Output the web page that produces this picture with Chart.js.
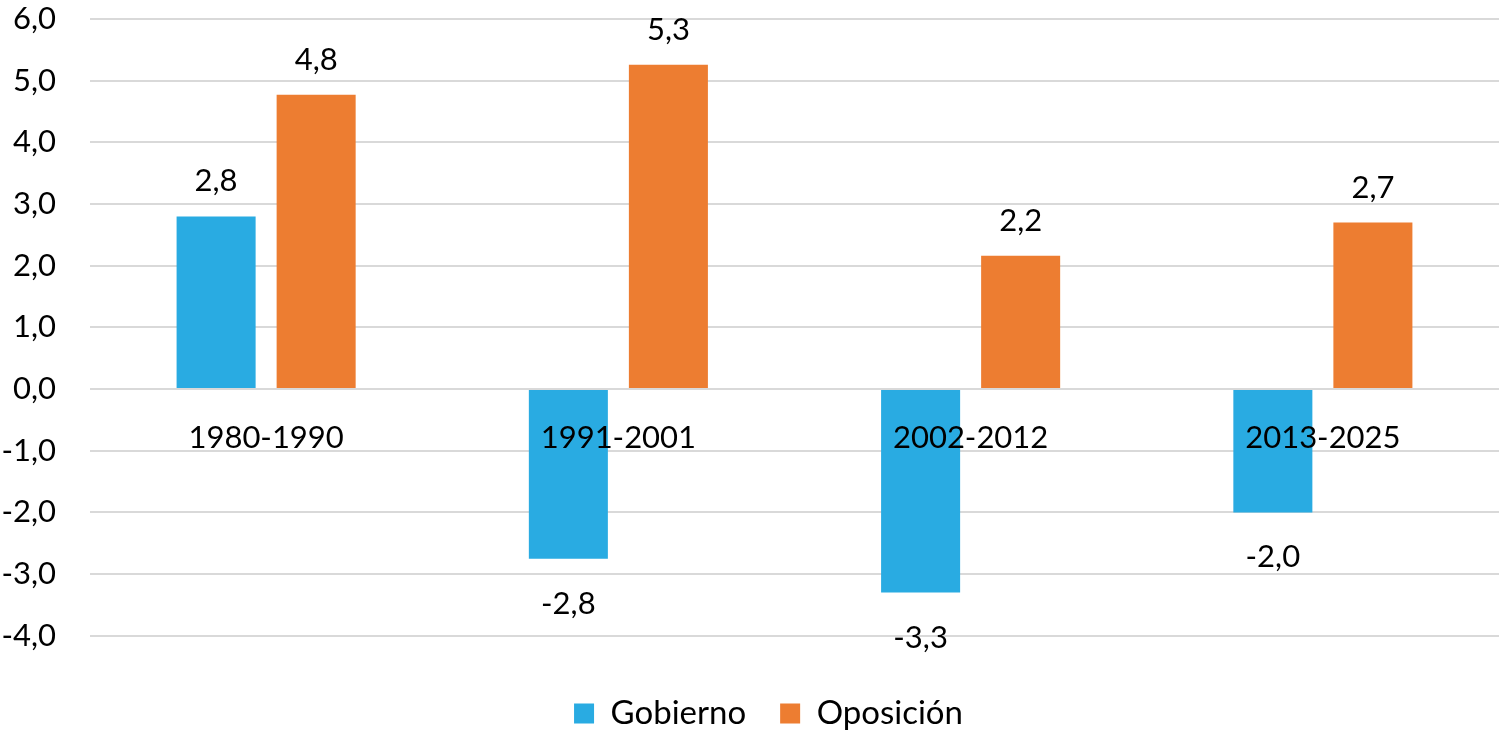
<!DOCTYPE html>
<html>
<head>
<meta charset="utf-8">
<script src="https://cdn.jsdelivr.net/npm/chart.js@4.4.1/dist/chart.umd.min.js"></script>
<style>
    html, body { margin: 0; padding: 0; background: #fff; }
    #wrap { width: 1500px; height: 735px; }
</style>
</head>
<body>
<div id="wrap"><canvas id="chart"></canvas></div>
<script>
// Periods and values
const periods = ['1980-1990', '1991-2001', '2002-2012', '2013-2025'];
const gobierno = [2.8, -2.75, -3.3, -2.0];
const oposicion = [4.77, 5.26, 2.16, 2.7];
const yTicks = [-4, -3, -2, -1, 0, 1, 2, 3, 4, 5, 6];

const FONT = 'Lato, "Open Sans", sans-serif';
const fmt = v => v.toFixed(1).replace('.', ',');

// Value labels above / below each bar
const valueLabels = {
    id: 'valueLabels',
    afterDatasetsDraw(chart) {
        const ctx = chart.ctx;
        ctx.save();
        ctx.font = '31px ' + FONT;
        ctx.fillStyle = '#000';
        ctx.textAlign = 'center';
        ctx.textBaseline = 'middle';
        chart.data.datasets.forEach((ds, di) => {
            chart.getDatasetMeta(di).data.forEach((bar, i) => {
                const v = ds.data[i];
                const y = v >= 0 ? bar.y - 35 : bar.y + 45;
                ctx.fillText(fmt(v), bar.x, y);
            });
        });
        ctx.restore();
    }
};

// nudge the legend a bit to the left, like the original
const legendShift = {
    id: 'legendShift',
    afterLayout(chart) {
        chart.legend.left -= 26;
        chart.legend.right -= 26;
    }
};

const ctx = document.getElementById('chart').getContext('2d');
const chart = new Chart(ctx, {
    type: 'bar',
    data: {
        labels: periods,
        datasets: [{
            label: 'Gobierno',
            data: gobierno,
            backgroundColor: '#29ABE2',
            categoryPercentage: 0.568,
            barPercentage: 0.79
        }, {
            label: 'Oposición',
            data: oposicion,
            backgroundColor: '#ED7D31',
            categoryPercentage: 0.568,
            barPercentage: 0.79
        }]
    },
    options: {
        responsive: true,
        maintainAspectRatio: false,
        animation: false,
        layout: {
            padding: { top: 19, right: 1, bottom: -5, left: 0 }
        },
        plugins: {
            legend: {
                position: 'bottom',
                fullSize: false,
                title: {
                    display: true,
                    text: '',
                    font: { size: 1 },
                    padding: { top: 26, bottom: 0 }
                },
                labels: {
                    boxWidth: 20,
                    boxHeight: 20,
                    padding: 34,
                    color: '#000',
                    font: { family: FONT, size: 33 }
                }
            },
            tooltip: { enabled: false }
        },
        scales: {
            x: {
                position: { y: 0 },
                afterFit(scale) {
                    scale.paddingTop = 0;
                    scale.paddingBottom = 0;
                },
                grid: { display: false },
                border: { display: false },
                ticks: {
                    z: 1,
                    color: '#000',
                    padding: 22,
                    font: { family: FONT, size: 31 }
                }
            },
            y: {
                min: -4,
                max: 6,
                afterFit(scale) {
                    scale.width = 90;
                    scale.paddingTop = 0;
                    scale.paddingBottom = 0;
                },
                afterBuildTicks(scale) {
                    scale.ticks = yTicks.map(v => ({ value: v }));
                },
                grid: {
                    color: '#d9d9d9',
                    lineWidth: 2,
                    drawTicks: false
                },
                border: { display: false },
                ticks: {
                    color: '#000',
                    padding: 34,
                    font: { family: FONT, size: 31 },
                    callback: value => fmt(value)
                }
            }
        }
    },
    plugins: [valueLabels, legendShift]
});
</script>
</body>
</html>
